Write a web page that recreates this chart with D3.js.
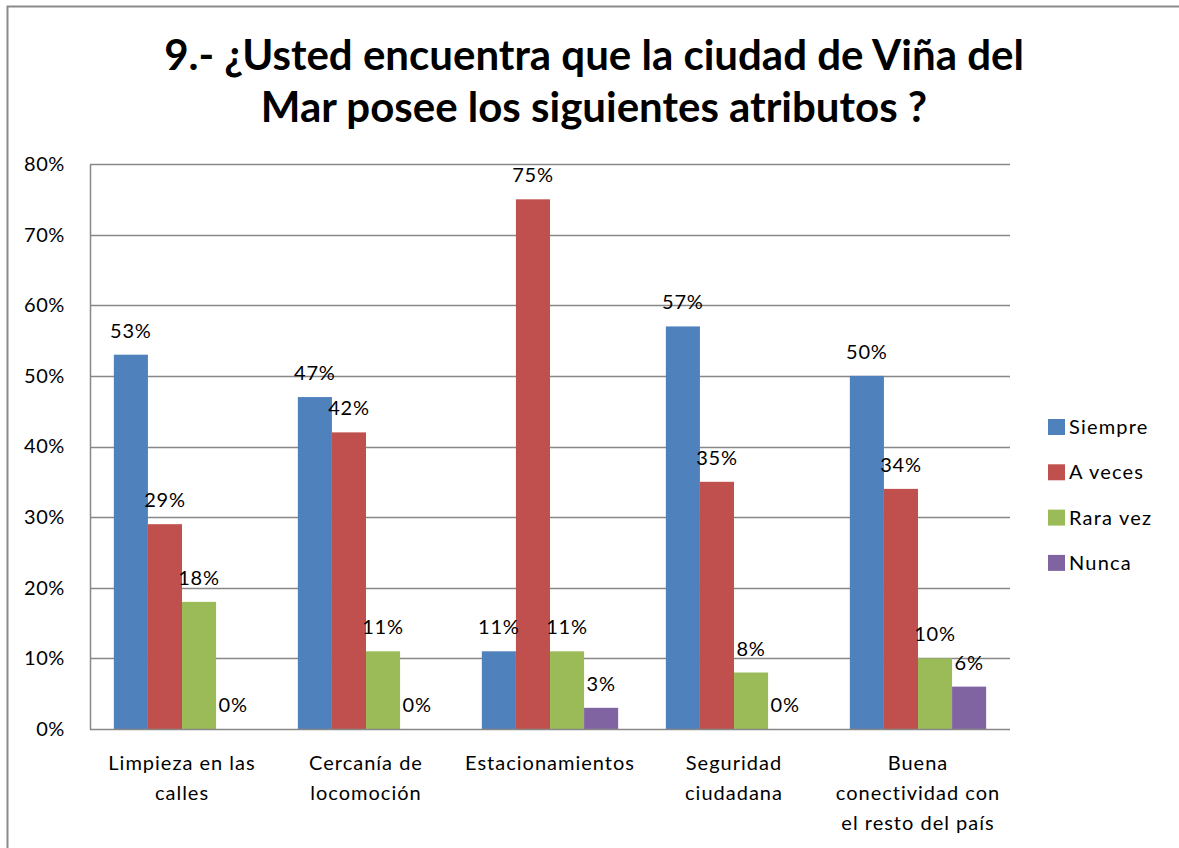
<!DOCTYPE html>
<html>
<head>
<meta charset="utf-8">
<script src="https://cdn.jsdelivr.net/npm/d3@7"></script>
<style>
  body { margin: 0; background: white; }
  text { font-family: 'Lato', 'Open Sans', sans-serif; fill: #000; }
</style>
</head>
<body>
<div class="canvas"></div>
<script>
// data
const categories = [
  ["Limpieza en las", "calles"],
  ["Cercanía de", "locomoción"],
  ["Estacionamientos"],
  ["Seguridad", "ciudadana"],
  ["Buena", "conectividad con", "el resto del país"]
];
const seriesNames = ["Siempre", "A veces", "Rara vez", "Nunca"];
const siempre = [53, 47, 11, 57, 50];
const aVeces = [29, 42, 75, 35, 34];
const raraVez = [18, 11, 11, 8, 10];
const nunca = [0, 0, 3, 0, 6];
const yTicks = [0, 10, 20, 30, 40, 50, 60, 70, 80];
const colors = ["#4F81BD", "#C0504D", "#9BBB59", "#8064A2"];

const values = [siempre, aVeces, raraVez, nunca];
const catIds = categories.map((d, i) => i);

const width = 1179, height = 848;
const margin = {top: 164, bottom: 119, left: 90, right: 169};

const svg = d3.select('.canvas')
  .append('svg')
    .attr('width', width)
    .attr('height', height);

// outer chart frame
svg.append("rect")
  .attr("x", 7.5).attr("y", 6.5)
  .attr("width", width).attr("height", height)
  .attr("fill", "white")
  .attr("stroke", "#8a8a8a")
  .attr("stroke-width", 2);

// title
const title = svg.append("text")
  .attr("text-anchor", "middle")
  .style("font-weight", "bold")
  .style("font-size", "42px");
title.append("tspan").attr("x", 594).attr("y", 70).text("9.- ¿Usted encuentra que la ciudad de Viña del");
title.append("tspan").attr("x", 594).attr("y", 122).text("Mar posee los siguientes atributos ?");

const y = d3.scaleLinear()
  .domain([0, 80])
  .range([height - margin.bottom, margin.top]);

const x0 = d3.scaleBand()
  .domain(catIds)
  .range([margin.left, width - margin.right])
  .padding(0);

const x1 = d3.scaleBand()
  .domain(d3.range(seriesNames.length))
  .range([0, x0.bandwidth()])
  .paddingInner(0)
  .paddingOuter(0.7);

// gridlines
svg.append("g")
  .selectAll("line")
  .data(yTicks.filter(t => t > 0))
  .enter()
  .append("line")
    .attr("x1", margin.left)
    .attr("x2", width - margin.right)
    .attr("y1", d => Math.round(y(d)) + 0.5)
    .attr("y2", d => Math.round(y(d)) + 0.5)
    .attr("stroke", "#888")
    .attr("stroke-width", 1.5);

// Y axis
const yAxis = svg.append("g")
  .attr("transform", `translate(${margin.left},0)`)
  .call(d3.axisLeft(y).tickValues(yTicks).tickSize(0).tickPadding(25).tickFormat(d => d + "%"));
yAxis.select(".domain").attr("stroke", "#888").attr("stroke-width", 1.5);
yAxis.selectAll("text")
  .style("font-family", "'Lato', sans-serif")
  .style("font-size", "20px")
  .style("letter-spacing", "0.6px");

// bars
const groups = svg.selectAll(".grp")
  .data(catIds)
  .enter()
  .append("g")
    .attr("transform", d => `translate(${x0(d)},0)`);

groups.selectAll("rect")
  .data(c => values.map((s, k) => ({k: k, v: s[c]})))
  .enter()
  .append("rect")
    .attr("x", d => x1(d.k))
    .attr("y", d => y(d.v))
    .attr("width", x1.bandwidth())
    .attr("height", d => y(0) - y(d.v))
    .attr("fill", d => colors[d.k]);

groups.selectAll(".lbl")
  .data(c => values.map((s, k) => ({k: k, v: s[c]})))
  .enter()
  .append("text")
    .attr("x", d => x1(d.k) + x1.bandwidth() / 2)
    .attr("y", d => y(d.v) - 17)
    .attr("text-anchor", "middle")
    .style("font-size", "20px")
    .style("letter-spacing", "0.8px")
    .text(d => d.v + "%");

// X axis
svg.append("line")
  .attr("x1", margin.left)
  .attr("x2", width - margin.right)
  .attr("y1", y(0) + 0.5)
  .attr("y2", y(0) + 0.5)
  .attr("stroke", "#888")
  .attr("stroke-width", 1.5);

const catLabels = svg.append("g")
  .selectAll("text")
  .data(catIds)
  .enter()
  .append("text")
    .attr("text-anchor", "middle")
    .style("font-size", "20px")
    .style("letter-spacing", "1px");
catLabels.selectAll("tspan")
  .data(c => categories[c].map(t => ({c: c, t: t})))
  .enter()
  .append("tspan")
    .attr("x", d => x0(d.c) + x0.bandwidth() / 2)
    .attr("y", (d, i) => 770 + i * 30)
    .text(d => d.t);

// legend
const legend = svg.append("g")
  .selectAll("g")
  .data(seriesNames)
  .enter()
  .append("g")
    .attr("transform", (d, i) => `translate(1048, ${427 + i * 45.3})`);
legend.append("rect")
  .attr("x", 0).attr("y", -8)
  .attr("width", 17).attr("height", 16)
  .attr("fill", (d, i) => colors[i]);
legend.append("text")
  .attr("x", 21)
  .attr("y", 7)
  .style("font-size", "20px")
  .style("letter-spacing", "1.2px")
  .text(d => d);
</script>
</body>
</html>
